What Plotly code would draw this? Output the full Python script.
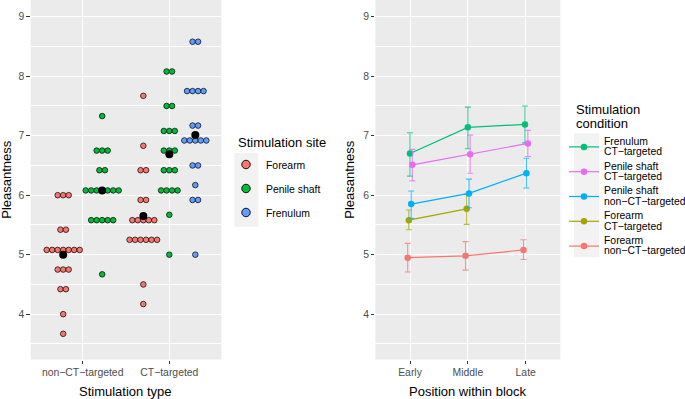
import plotly.graph_objects as go

# ---------------- data ----------------
stim_types = ["non−CT−targeted", "CT−targeted"]
sites = ["Forearm", "Penile shaft", "Frenulum"]
site_colors = ["#F8766D", "#00BA38", "#619CFF"]

# dot-plot values (bin centres) and how many dots are stacked at each
nonct_forearm_vals = [3.67, 4.00, 4.42, 4.75, 5.08, 5.42, 6.00]
nonct_forearm_counts = [1, 1, 2, 3, 7, 2, 3]
nonct_penile_vals = [4.67, 5.58, 6.08, 6.42, 6.75, 7.33]
nonct_penile_counts = [1, 5, 7, 2, 3, 1]
ct_forearm_vals = [4.17, 4.50, 5.25, 5.58, 5.92, 6.42, 6.83, 7.67]
ct_forearm_counts = [1, 1, 6, 5, 2, 2, 1, 1]
ct_penile_vals = [5.00, 5.67, 6.08, 6.42, 6.75, 7.08, 7.50, 8.08]
ct_penile_counts = [1, 1, 4, 3, 3, 3, 2, 2]
ct_frenulum_vals = [5.00, 5.92, 6.17, 6.50, 6.92, 7.17, 7.75, 8.58]
ct_frenulum_counts = [1, 2, 1, 2, 5, 2, 4, 2]

mean_nonct = [5.00, 6.08]          # forearm, penile shaft
mean_ct = [5.65, 6.69, 7.01]       # forearm, penile shaft, frenulum

positions = ["Early", "Middle", "Late"]
cond_site = ["Forearm", "Forearm", "Frenulum", "Penile shaft", "Penile shaft"]
cond_type = ["non−CT−targeted", "CT−targeted", "CT−targeted",
             "non−CT−targeted", "CT−targeted"]
cond_colors = ["#F8766D", "#A3A500", "#00BF7D", "#00B0F6", "#E76BF3"]
cond_means = [[4.95, 4.98, 5.08],
              [5.58, 5.77, None],
              [6.70, 7.14, 7.19],
              [5.85, 6.03, 6.37],
              [6.51, 6.69, 6.87]]
cond_upper = [[5.19, 5.22, 5.25],
              [5.75, 6.02, None],
              [7.05, 7.48, 7.50],
              [6.07, 6.27, 6.62],
              [6.77, 7.01, 7.09]]
cond_lower = [[4.71, 4.74, 4.92],
              [5.42, 5.51, None],
              [6.32, 6.78, 6.88],
              [5.61, 5.79, 6.12],
              [6.24, 6.37, 6.65]]
legend_rank = [5, 4, 1, 3, 2]

y_ticks = [4, 5, 6, 7, 8, 9]

# ---------------- layout constants ----------------
W, H = 685, 399
FONT = "Liberation Sans, Arial, sans-serif"
L1, R1 = 30.7, 221.3
L2, R2 = 375.3, 560.4
PT, PB = 0.0, 359.5
YR = [3.238, 9.281]
XR1 = [0.4, 2.6]
XR2 = [0.4, 3.6]
TXT = 10.4


def px_x(p):
    return p / W


def px_y(p):
    return 1 - p / H


def sized(s, size):
    return "<span style='font-size:%spx'>%s</span>" % (size, s)


fig = go.Figure()

# ---------------- left panel: dot plot ----------------
step = 5.5 / ((R1 - L1) / (XR1[1] - XR1[0]))


def stack(center, vals, counts):
    xs, ys = [], []
    for v, c in zip(vals, counts):
        for k in range(c):
            xs.append(center + (k - (c - 1) / 2) * step)
            ys.append(v)
    return xs, ys


groups = {
    0: [(1 - 0.225, nonct_forearm_vals, nonct_forearm_counts),
        (2 - 0.3, ct_forearm_vals, ct_forearm_counts)],
    1: [(1 + 0.225, nonct_penile_vals, nonct_penile_counts),
        (2.0, ct_penile_vals, ct_penile_counts)],
    2: [(2 + 0.3, ct_frenulum_vals, ct_frenulum_counts)],
}
for si in range(3):
    xs, ys = [], []
    for c, v, n in groups[si]:
        a, b = stack(c, v, n)
        xs += a
        ys += b
    fig.add_trace(go.Scatter(
        x=xs, y=ys, mode="markers", xaxis="x", yaxis="y", showlegend=False,
        marker=dict(size=5.6, color=site_colors[si], line=dict(color="black", width=0.7)),
        hoverinfo="skip"))

mx = [1 - 0.225, 1 + 0.225, 2 - 0.3, 2.0, 2 + 0.3]
my = mean_nonct + mean_ct
fig.add_trace(go.Scatter(x=mx, y=my, mode="markers", xaxis="x", yaxis="y",
                         showlegend=False, marker=dict(size=8, color="black"),
                         hoverinfo="skip"))

# legend-only keys for the left legend
for si in range(3):
    fig.add_trace(go.Scatter(
        x=[None], y=[None], mode="markers", name=sites[si], xaxis="x", yaxis="y",
        legend="legend", legendgroup="s%d" % si,
        marker=dict(size=8.5, color=site_colors[si], line=dict(color="black", width=0.9))))

# ---------------- right panel: lines + error bars ----------------
dodge_w = 0.1
offsets = [[None] * 3 for _ in range(5)]
for j in range(3):
    present = [i for i in range(5) if cond_means[i][j] is not None]
    n = len(present)
    for r, i in enumerate(present):
        offsets[i][j] = (r - (n - 1) / 2) * dodge_w / n


def rgba(hexc, a):
    h = hexc.lstrip("#")
    return "rgba(%d,%d,%d,%.2f)" % (int(h[0:2], 16), int(h[2:4], 16), int(h[4:6], 16), a)


for i in range(5):
    xs, ys, up, dn = [], [], [], []
    for j in range(3):
        m = cond_means[i][j]
        if m is None:
            continue
        xs.append(j + 1 + offsets[i][j])
        ys.append(m)
        up.append(cond_upper[i][j] - m)
        dn.append(m - cond_lower[i][j])
    label = sized(cond_site[i], TXT) + "<br>" + sized(cond_type[i], TXT)
    fig.add_trace(go.Scatter(
        x=xs, y=ys, mode="lines+markers", name=label,
        xaxis="x2", yaxis="y2", legend="legend2", legendgroup="c%d" % i,
        legendrank=legend_rank[i], hoverinfo="skip",
        line=dict(color=cond_colors[i], width=1.2),
        marker=dict(size=6.5, color=cond_colors[i]),
        error_y=dict(type="data", symmetric=False, array=up, arrayminus=dn,
                     color=rgba(cond_colors[i], 0.75), thickness=1.1, width=3)))

# ---------------- axes ----------------
tickfont = dict(family=FONT, size=TXT, color="#4D4D4D")
yaxis_common = dict(range=YR, tickvals=y_ticks, ticks="outside", ticklen=3.3,
                    tickwidth=1.1, tickcolor="#333333", showgrid=True,
                    gridcolor="white", gridwidth=1.1, zeroline=False,
                    showline=False, tickfont=tickfont,
                    minor=dict(tickvals=[3.5, 4.5, 5.5, 6.5, 7.5, 8.5], showgrid=True,
                               gridcolor="white", gridwidth=0.55, ticks=""),
                    domain=[px_y(PB), px_y(PT)])
xaxis_common = dict(ticks="outside", ticklen=3.3, tickwidth=1.1, tickcolor="#333333",
                    showgrid=True, gridcolor="white", gridwidth=1.1, zeroline=False,
                    showline=False, tickfont=tickfont)

title_font = dict(size=13, family=FONT, color="black")

fig.update_layout(
    width=W, height=H, autosize=False,
    margin=dict(l=0, r=0, t=0, b=0, autoexpand=False),
    paper_bgcolor="white", plot_bgcolor="#EBEBEB",
    font=dict(family=FONT, color="black"),
    xaxis=dict(xaxis_common, range=XR1, tickvals=[1, 2], ticktext=stim_types,
               domain=[px_x(L1), px_x(R1)], anchor="y", automargin=False),
    yaxis=dict(yaxis_common, anchor="x", automargin=False),
    xaxis2=dict(xaxis_common, range=XR2, tickvals=[1, 2, 3], ticktext=positions,
                domain=[px_x(L2), px_x(R2)], anchor="y2", automargin=False),
    yaxis2=dict(yaxis_common, anchor="x2", automargin=False),
    legend=dict(x=px_x(226), y=px_y(150), xanchor="left", yanchor="top",
                font=dict(size=TXT, family=FONT, color="black"),
                bgcolor="rgba(0,0,0,0)", tracegroupgap=5),
    legend2=dict(x=px_x(564), y=px_y(130), xanchor="left", yanchor="top",
                 font=dict(size=8, family=FONT, color="black"),
                 bgcolor="rgba(0,0,0,0)", tracegroupgap=1),
    shapes=[
        dict(type="rect", xref="paper", yref="paper", layer="below",
             x0=px_x(234.3), x1=px_x(258.3), y0=px_y(226.7), y1=px_y(152.7),
             fillcolor="#F2F2F2", line=dict(width=0)),
        dict(type="rect", xref="paper", yref="paper", layer="below",
             x0=px_x(574), x1=px_x(599.3), y0=px_y(257.3), y1=px_y(133.3),
             fillcolor="#F2F2F2", line=dict(width=0)),
    ],
    annotations=[
        dict(text="Stimulation site", x=px_x(235.5), y=px_y(142.7), xref="paper", yref="paper",
             showarrow=False, xanchor="left", yanchor="middle", font=title_font),
        dict(text=sized("Stimulation", 13) + "<br>" + sized("condition", 13),
             x=px_x(574), y=px_y(117), xref="paper", yref="paper", align="left",
             showarrow=False, xanchor="left", yanchor="middle",
             font=dict(size=10.8, family=FONT, color="black")),
        dict(text="Pleasantness", x=px_x(7), y=px_y((PT + PB) / 2), xref="paper", yref="paper",
             textangle=-90, showarrow=False, xanchor="center", yanchor="middle",
             font=title_font),
        dict(text="Pleasantness", x=px_x(350), y=px_y((PT + PB) / 2), xref="paper", yref="paper",
             textangle=-90, showarrow=False, xanchor="center", yanchor="middle",
             font=title_font),
        dict(text="Stimulation type", x=px_x((L1 + R1) / 2), y=px_y(391.7), xref="paper",
             yref="paper", showarrow=False, xanchor="center", yanchor="middle",
             font=title_font),
        dict(text="Position within block", x=px_x((L2 + R2) / 2), y=px_y(391.7), xref="paper",
             yref="paper", showarrow=False, xanchor="center", yanchor="middle",
             font=title_font),
    ],
)

fig.write_html("out.html", config={"displayModeBar": False},
               post_script="document.body.style.margin='0';")
